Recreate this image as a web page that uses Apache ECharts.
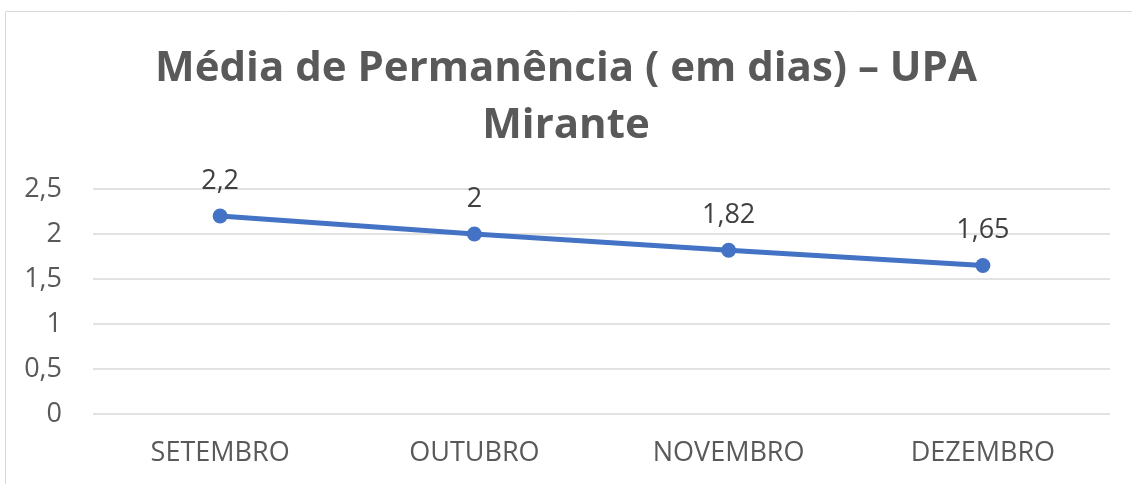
<!DOCTYPE html>
<html>
<head>
<meta charset="utf-8">
<script src="https://cdn.jsdelivr.net/npm/echarts@6/dist/echarts.min.js"></script>
<style>
  html, body { margin: 0; padding: 0; background: #fff; }
  #chart { width: 1132px; height: 484px; }
</style>
</head>
<body>
<div id="chart"></div>
<script>
const months = ["SETEMBRO", "OUTUBRO", "NOVEMBRO", "DEZEMBRO"];
const mediaDias = [2.2, 2, 1.82, 1.65];

const fmt = (v) => String(v).replace(".", ",");

const chart = echarts.init(document.getElementById("chart"));
chart.setOption({
  backgroundColor: "#fff",
  animation: false,
  title: {
    text: "Média de Permanência ( em dias) – UPA\nMirante",
    left: "center",
    top: 36,
    textStyle: {
      fontFamily: "Open Sans",
      fontSize: 42,
      fontWeight: "bold",
      color: "#595959",
      lineHeight: 57,
    },
  },
  graphic: [
    {
      type: "rect",
      shape: { x: 5.5, y: 11.5, width: 1300, height: 600 },
      style: { fill: "none", stroke: "#d9d9d9", lineWidth: 1 },
      silent: true,
    },
  ],
  grid: { left: 93, right: 22, top: 189, bottom: 70 },
  xAxis: {
    type: "category",
    data: months,
    axisLine: { show: false },
    axisTick: { show: false },
    axisLabel: {
      margin: 26,
      fontFamily: "Open Sans",
      fontSize: 27,
      color: "#595959",
    },
  },
  yAxis: {
    type: "value",
    min: 0,
    max: 2.5,
    interval: 0.5,
    axisLabel: {
      margin: 31,
      fontFamily: "Open Sans",
      fontSize: 27,
      color: "#595959",
      formatter: fmt,
    },
    splitLine: { lineStyle: { color: "#d9d9d9", width: 1.5 } },
  },
  series: [
    {
      type: "line",
      data: mediaDias,
      symbol: "circle",
      symbolSize: 15,
      lineStyle: { color: "#4472c4", width: 5 },
      itemStyle: { color: "#4472c4" },
      label: {
        show: true,
        position: "top",
        distance: 14,
        fontFamily: "Open Sans",
        fontSize: 27,
        color: "#404040",
        formatter: (p) => fmt(p.value),
      },
    },
  ],
});
</script>
</body>
</html>
